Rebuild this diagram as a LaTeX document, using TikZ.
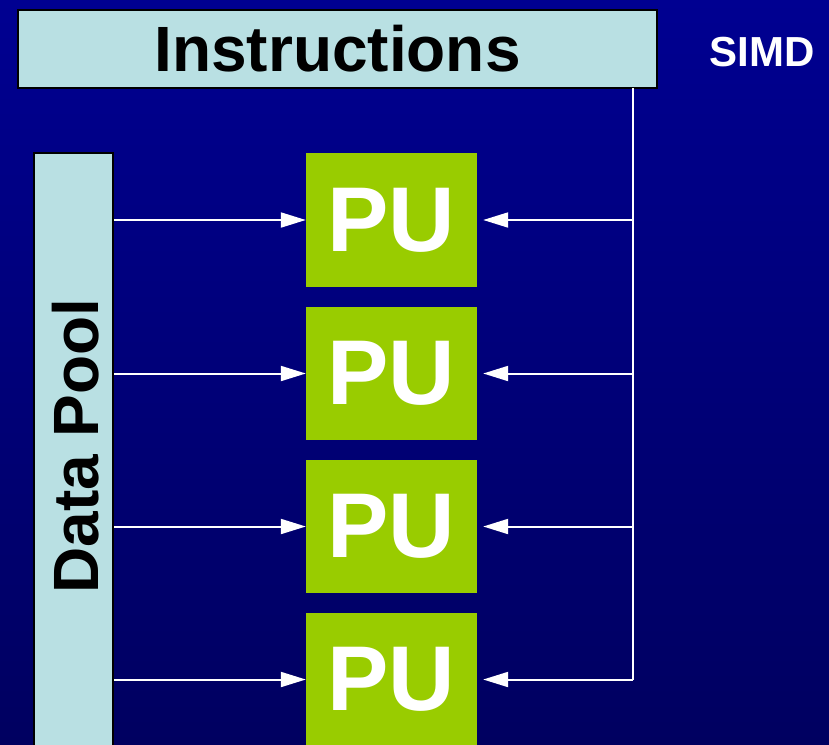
\documentclass[tikz,border=0pt]{standalone}
\usepackage{fontspec}
\setmainfont{Liberation Sans}
\usetikzlibrary{arrows.meta}
\definecolor{bgtop}{RGB}{0,0,145}
\definecolor{bgbot}{RGB}{0,0,96}
\definecolor{paleblue}{RGB}{185,224,227}
\definecolor{pugreen}{RGB}{153,204,0}
\tikzset{
  palebox/.style={draw=black, line width=2pt, fill=paleblue, inner sep=0pt, text=black, font=\bfseries\fontsize{64}{64}\selectfont},
  pubox/.style={fill=pugreen, inner sep=0pt, minimum width=171pt, text=white, font=\bfseries\fontsize{92}{92}\selectfont},
  wline/.style={draw=white, line width=2pt},
  warrow/.style={wline, -{Triangle[length=25pt,width=15pt]}},
}
\begin{document}
\begin{tikzpicture}[x=1pt,y=-1pt]
\useasboundingbox (0,0) rectangle (829,744);
\shade[top color=bgtop, bottom color=bgbot] (0,0) rectangle (829,744);
\begin{scope}
\clip (0,0) rectangle (829,744);
\node[palebox, minimum width=639pt, minimum height=78pt] (instr) at (337.5,49) {Instructions};
\node[text=white, font=\bfseries\fontsize{42}{42}\selectfont] (simd) at (762,52) {SIMD};
\node[palebox, minimum width=79pt, minimum height=600pt] (pool) at (73.5,453) {};
\node[rotate=90, font=\bfseries\fontsize{64}{64}\selectfont] (pooltext) at (76,446) {Data Pool};
\node[pubox, minimum height=134pt] (pu1) at (391.5,220) {\raisebox{-3pt}{PU}};
\node[pubox, minimum height=133pt] (pu2) at (391.5,373.5) {\raisebox{-3pt}{PU}};
\node[pubox, minimum height=133pt] (pu3) at (391.5,526.5) {\raisebox{-3pt}{PU}};
\node[pubox, minimum height=133pt] (pu4) at (391.5,679.5) {\raisebox{-3pt}{PU}};
\coordinate (bus) at (633,88);
\draw[wline] (bus) -- (bus |- pu4.east);
\foreach \i in {1,2,3,4}{
  \draw[warrow] (pool.east |- pu\i.west) -- (pu\i.west);
  \draw[warrow, shorten >=6pt] (bus |- pu\i.east) -- (pu\i.east);
}
\end{scope}
\end{tikzpicture}
\end{document}
